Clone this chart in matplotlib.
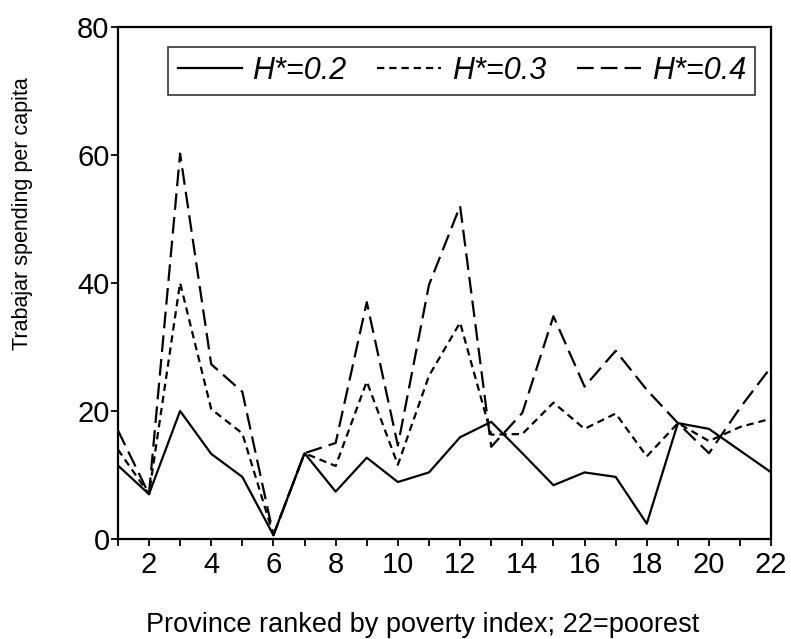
import matplotlib.pyplot as plt
import numpy as np

plt.rcParams['font.family'] = ['Liberation Sans', 'DejaVu Sans']

# province rank 1..22
province = np.arange(1, 23)

# spending per capita for each threshold
h02 = [11.5, 7.0, 20.0, 13.3, 9.7, 0.6, 13.4, 7.4, 12.7, 8.9, 10.4, 15.9,
       18.3, 13.4, 8.4, 10.4, 9.7, 2.4, 18.1, 17.2, 13.8, 10.4]
h03 = [14.0, 7.0, 40.0, 20.3, 16.5, 0.6, 13.4, 11.4, 24.6, 11.6, 25.5, 33.8,
       16.3, 16.4, 21.3, 17.2, 19.6, 12.9, 18.1, 15.3, 17.5, 18.8]
h04 = [17.0, 7.0, 60.2, 27.3, 23.0, 0.6, 13.4, 15.0, 37.0, 14.6, 39.7, 52.0,
       14.4, 19.7, 34.8, 23.8, 29.4, 23.3, 18.1, 13.4, 20.5, 26.9]

labels = ['H*=0.2', 'H*=0.3', 'H*=0.4']

fig = plt.figure(figsize=(7.91, 6.39), dpi=100)
ax = fig.add_axes([0.149, 0.1565, 0.826, 0.8015])

ax.plot(province, h02, color='black', lw=1.6, linestyle='-', label=labels[0])
ax.plot(province, h03, color='black', lw=1.6, linestyle=(0, (3.3, 2.2)), label=labels[1])
ax.plot(province, h04, color='black', lw=1.6, linestyle=(0, (7.5, 3.2)), label=labels[2])

ax.set_xlim(1, 22)
ax.set_ylim(0, 80)
ax.set_xticks(np.arange(2, 23, 2))
ax.set_xticks(np.arange(1, 23, 2), minor=True)
ax.set_yticks([0, 20, 40, 60, 80])
ax.tick_params(axis='both', which='both', direction='out', length=5, width=1.3,
               labelsize=21, top=False, right=False)
ax.tick_params(axis='x', pad=4)
ax.tick_params(axis='y', pad=1)
for s in ax.spines.values():
    s.set_linewidth(1.6)

# axis titles placed by hand, they are off-centre in the original
fig.text(423 / 791, 1 - 632 / 639, 'Province ranked by poverty index; 22=poorest',
         fontsize=19.5, ha='center', va='baseline')
fig.text(23 / 791, 1 - 214 / 639, 'Trabajar spending per capita',
         fontsize=15.5, rotation=90, ha='center', va='center')

leg = ax.legend(loc='upper right', ncol=3, fontsize=22, frameon=True,
                fancybox=False, edgecolor='black', handlelength=2.1,
                columnspacing=1.0, handletextpad=0.35, borderpad=0.3,
                borderaxespad=0, bbox_to_anchor=(0.9755, 0.961))
leg.get_frame().set_linewidth(1.2)
for t in leg.get_texts():
    t.set_style('italic')

fig.savefig('out.png', dpi=100)
